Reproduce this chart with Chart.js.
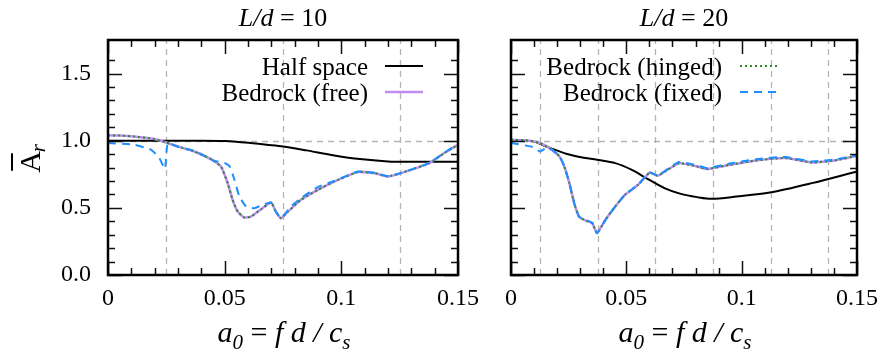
<!DOCTYPE html>
<html>
<head>
<meta charset="utf-8">
<script src="https://cdn.jsdelivr.net/npm/chart.js@4.4.1/dist/chart.umd.min.js"></script>
<style>
  html, body { margin: 0; padding: 0; background: #fff; }
  #wrap { position: relative; width: 887px; height: 356px; overflow: hidden; }
  canvas { position: absolute; left: 0; top: 0; }
</style>
</head>
<body>
<div id="wrap">
  <canvas id="left" width="887" height="356"></canvas>
  <canvas id="right" width="887" height="356"></canvas>
</div>
<script>
const SERIF = "'Liberation Serif', 'DejaVu Serif', serif";

// ---- L/d = 10 ----
const halfXL = [0, 0.02, 0.04, 0.05, 0.055, 0.061, 0.068, 0.075, 0.085, 0.097, 0.108, 0.12, 0.128, 0.15];
const halfYL = [1.0, 1.0, 1.0, 0.998, 0.993, 0.983, 0.97, 0.957, 0.928, 0.89, 0.863, 0.846, 0.843, 0.843];

const freeXL = [0, 0.005, 0.011, 0.0198, 0.0249, 0.0299, 0.037, 0.0441, 0.0484, 0.0513, 0.0534, 0.0556, 0.0584,
  0.0613, 0.0656, 0.0699, 0.072, 0.0741, 0.077, 0.0827, 0.0899, 0.097, 0.107, 0.1141, 0.1199, 0.1256, 0.1377, 0.1441, 0.15];
const freeYL = [1.04, 1.038, 1.032, 1.013, 0.987, 0.957, 0.92, 0.863, 0.808, 0.684, 0.56, 0.472, 0.428,
  0.435, 0.49, 0.54, 0.47, 0.423, 0.47, 0.56, 0.634, 0.696, 0.766, 0.759, 0.734, 0.759, 0.833, 0.908, 0.97];

const fixedXL = [0, 0.0112, 0.0184, 0.022, 0.0244, 0.0256, 0.0299, 0.037, 0.0456, 0.0499, 0.0521, 0.0542, 0.0563,
  0.0592, 0.0627, 0.067, 0.0699, 0.072, 0.0741, 0.0784, 0.0827, 0.0899, 0.097, 0.107, 0.1141, 0.1199, 0.1256, 0.1377, 0.1441, 0.15];
const fixedYL = [0.983, 0.97, 0.933, 0.871, 0.79, 0.98, 0.955, 0.925, 0.85, 0.835, 0.81, 0.709, 0.584,
  0.51, 0.498, 0.527, 0.54, 0.47, 0.423, 0.51, 0.572, 0.655, 0.70, 0.77, 0.762, 0.736, 0.76, 0.835, 0.91, 0.975];

// ---- L/d = 20 ----
const halfXR = [0, 0.005, 0.0096, 0.0153, 0.0239, 0.0309, 0.0373, 0.0452, 0.0522, 0.0594, 0.0665, 0.0736, 0.0807,
  0.0871, 0.0977, 0.1122, 0.1304, 0.15];
const halfYR = [1.005, 1.003, 0.995, 0.957, 0.903, 0.875, 0.858, 0.833, 0.784, 0.714, 0.647, 0.604, 0.58,
  0.567, 0.584, 0.614, 0.684, 0.771];

const freeXR = [0, 0.0082, 0.0125, 0.0167, 0.021, 0.0231, 0.0253, 0.0274, 0.0295, 0.0324, 0.0352, 0.0373, 0.0409,
  0.0452, 0.0494, 0.0551, 0.0601, 0.0636, 0.0679, 0.0729, 0.0807, 0.0849, 0.0949, 0.1062, 0.119, 0.1304, 0.1403, 0.15];
const freeYR = [1.007, 1.0, 0.983, 0.945, 0.883, 0.808, 0.684, 0.535, 0.435, 0.405, 0.386, 0.311, 0.41,
  0.51, 0.597, 0.672, 0.763, 0.739, 0.784, 0.833, 0.808, 0.789, 0.821, 0.853, 0.871, 0.838, 0.853, 0.888];

const fixedXR = [0, 0.0096, 0.0125, 0.0153, 0.0175, 0.021, 0.0231, 0.0253, 0.0274, 0.0295, 0.0324, 0.0352, 0.0373,
  0.0409, 0.0452, 0.0494, 0.0551, 0.0601, 0.0636, 0.0679, 0.0729, 0.0807, 0.0849, 0.0949, 0.1062, 0.119, 0.1304, 0.1403, 0.15];
const fixedYR = [0.983, 0.953, 0.92, 0.945, 0.935, 0.883, 0.808, 0.684, 0.535, 0.435, 0.41, 0.39, 0.311,
  0.41, 0.51, 0.597, 0.672, 0.763, 0.739, 0.79, 0.842, 0.817, 0.797, 0.83, 0.862, 0.879, 0.846, 0.86, 0.893];

// hinged and free bedrock curves coincide in the figure
const hingedXL = freeXL, hingedYL = freeYL;
const hingedXR = freeXR, hingedYR = freeYR;

const xMajor = [0, 0.05, 0.1, 0.15];
const xMajorLabels = ['0', '0.05', '0.1', '0.15'];
const yMajor = [0, 0.5, 1.0, 1.5];
const yMajorLabels = ['0.0', '0.5', '1.0', '1.5'];
const gridXL = [0.025, 0.075, 0.125];
const gridXR = [0.0125, 0.0375, 0.0625, 0.0875, 0.1125, 0.1375];
const gridY = [1.0];

const legendLabels = ['Half space', 'Bedrock (free)', 'Bedrock (hinged)', 'Bedrock (fixed)'];

function majorLabel(v, majors, labels) {
  const i = majors.findIndex(m => Math.abs(m - v) < 1e-6);
  return i < 0 ? '' : labels[i];
}
function isStep(v, step) {
  const r = v / step;
  return Math.abs(r - Math.round(r)) < 1e-6;
}
function fontOf(p) {
  return (p.italic ? 'italic ' : '') + p.size + 'px ' + SERIF;
}
// draw text made of runs (italic / subscript), anchored by align
function drawRuns(ctx, parts, x, y, align) {
  let w = 0;
  parts.forEach(p => { ctx.font = fontOf(p); w += ctx.measureText(p.t).width; });
  let cx = align === 'right' ? x - w : (align === 'left' ? x : x - w / 2);
  ctx.textAlign = 'left';
  parts.forEach(p => {
    ctx.font = fontOf(p);
    ctx.fillText(p.t, cx, y + (p.dy || 0));
    cx += ctx.measureText(p.t).width;
  });
}

const framePlugin = {
  id: 'frame',
  beforeDatasetsDraw(chart, args, o) {
    const { ctx, chartArea: a, scales: { x, y } } = chart;
    ctx.save();
    ctx.beginPath();
    ctx.rect(a.left, a.top, a.width, a.height);
    ctx.clip();
    ctx.strokeStyle = '#b4b4b4';
    ctx.lineWidth = 1.3;
    ctx.setLineDash([6, 5]);
    o.xGrid.forEach(v => {
      const px = Math.round(x.getPixelForValue(v)) + 0.5;
      ctx.beginPath(); ctx.moveTo(px, a.bottom); ctx.lineTo(px, a.top); ctx.stroke();
    });
    o.yGrid.forEach(v => {
      const py = Math.round(y.getPixelForValue(v)) + 0.5;
      ctx.beginPath(); ctx.moveTo(a.left, py); ctx.lineTo(a.right, py); ctx.stroke();
    });
    ctx.restore();
  },
  afterDatasetsDraw(chart, args, o) {
    const { ctx, chartArea: a, scales: { x, y } } = chart;
    ctx.save();
    // inward tick marks on all four sides
    ctx.strokeStyle = '#111';
    ctx.lineWidth = 1.5;
    x.ticks.forEach(t => {
      if (!isStep(t.value, 0.01)) return;
      const len = isStep(t.value, 0.05) ? 14 : 7;
      const px = Math.round(x.getPixelForValue(t.value)) + 0.5;
      ctx.beginPath();
      ctx.moveTo(px, a.bottom); ctx.lineTo(px, a.bottom - len);
      ctx.moveTo(px, a.top); ctx.lineTo(px, a.top + len);
      ctx.stroke();
    });
    y.ticks.forEach(t => {
      if (!isStep(t.value, 0.1)) return;
      const len = isStep(t.value, 0.5) ? 14 : 7;
      const py = Math.round(y.getPixelForValue(t.value)) + 0.5;
      ctx.beginPath();
      ctx.moveTo(a.left, py); ctx.lineTo(a.left + len, py);
      ctx.moveTo(a.right, py); ctx.lineTo(a.right - len, py);
      ctx.stroke();
    });
    // frame
    ctx.lineWidth = 2.5;
    ctx.strokeStyle = '#000';
    ctx.strokeRect(a.left, a.top, a.width, a.height);

    // legend: label right-aligned, sample line to the right
    ctx.fillStyle = '#000';
    ctx.textBaseline = 'middle';
    o.legend.forEach((item, i) => {
      const ds = chart.data.datasets[item.ds];
      const rowY = o.legendRows[i];
      drawRuns(ctx, [{ t: item.label, size: 25 }], o.legendRight, rowY + 1, 'right');
      ctx.strokeStyle = ds.borderColor;
      ctx.lineWidth = ds.borderWidth;
      ctx.setLineDash(ds.borderDash || []);
      ctx.beginPath();
      ctx.moveTo(o.sampleX[0], rowY - 1);
      ctx.lineTo(o.sampleX[1], rowY - 1);
      ctx.stroke();
    });
    ctx.setLineDash([]);
    ctx.strokeStyle = '#000';

    // panel title
    const cx = (a.left + a.right) / 2;
    ctx.textBaseline = 'alphabetic';
    drawRuns(ctx, [
      { t: 'L/d', size: 26, italic: true },
      { t: ' = ' + o.ratio, size: 26 }
    ], cx, 26, 'center');

    // x axis title  a0 = f d / cs
    drawRuns(ctx, [
      { t: 'a', size: 30, italic: true },
      { t: '0', size: 21, italic: true, dy: 7 },
      { t: ' = ', size: 30 },
      { t: 'f d / c', size: 30, italic: true },
      { t: 's', size: 21, italic: true, dy: 7 }
    ], cx + 1, 342, 'center');

    // y axis title (rotated)  A-bar with subscript r
    if (o.yTitle) {
      ctx.translate(40, 162);
      ctx.rotate(-Math.PI / 2);
      ctx.font = '30px ' + SERIF;
      const wA = ctx.measureText('A').width;
      ctx.textAlign = 'left';
      ctx.fillText('A', -wA / 2, 0);
      ctx.lineWidth = 2;
      ctx.beginPath();
      ctx.moveTo(-wA / 2 + 2, -28);
      ctx.lineTo(wA / 2 - 2, -28);
      ctx.stroke();
      ctx.font = 'italic 21px ' + SERIF;
      ctx.fillText('r', wA / 2 - 1, 5);
    }
    ctx.restore();
  }
};

function series(xs, ys, style) {
  return Object.assign({
    data: xs.map((v, i) => ({ x: v, y: ys[i] })),
    pointRadius: 0,
    fill: false
  }, style);
}

function makeDatasets(hx, hy, fx, fy, gx, gy, bx, by) {
  // first dataset is drawn on top
  return [
    series(bx, by, { label: legendLabels[3], borderColor: '#1e8fff', borderWidth: 2, borderDash: [8, 6], tension: 0.15 }),
    series(gx, gy, { label: legendLabels[2], borderColor: '#2a8a2a', borderWidth: 2, borderDash: [2, 3], tension: 0.15 }),
    series(fx, fy, { label: legendLabels[1], borderColor: '#c08cf2', borderWidth: 2.5, tension: 0.15 }),
    series(hx, hy, { label: legendLabels[0], borderColor: '#000000', borderWidth: 2, tension: 0.3 })
  ];
}

function makeChart(id, datasets, frame, yAxisWidth, padRight, showYLabels) {
  return new Chart(document.getElementById(id), {
    type: 'line',
    data: { datasets },
    options: {
      responsive: false,
      animation: false,
      devicePixelRatio: 1,
      layout: { padding: { left: 0, right: padRight, top: 40, bottom: 0 } },
      plugins: { legend: { display: false }, tooltip: { enabled: false }, frame },
      scales: {
        x: {
          type: 'linear', min: 0, max: 0.15,
          afterFit(s) { s.height = 81; },
          grid: { display: false, drawTicks: false },
          border: { display: false },
          ticks: {
            stepSize: 0.01, autoSkip: false, maxRotation: 0, padding: 9,
            color: '#000', font: { family: SERIF, size: 24 },
            callback: v => majorLabel(v, xMajor, xMajorLabels)
          }
        },
        y: {
          type: 'linear', min: 0, max: 1.75,
          afterFit(s) { s.width = yAxisWidth; },
          grid: { display: false, drawTicks: false },
          border: { display: false },
          ticks: {
            stepSize: 0.1, autoSkip: false, padding: 17,
            color: '#000', font: { family: SERIF, size: 24 },
            callback: v => showYLabels ? majorLabel(v, yMajor, yMajorLabels) : ''
          }
        }
      }
    },
    plugins: [framePlugin]
  });
}

function drawAll() {
  makeChart('left',
    makeDatasets(halfXL, halfYL, freeXL, freeYL, hingedXL, hingedYL, fixedXL, fixedYL),
    {
      xGrid: gridXL, yGrid: gridY, ratio: '10', yTitle: true,
      legend: [{ label: legendLabels[0], ds: 3 }, { label: legendLabels[1], ds: 2 }],
      legendRight: 368, legendRows: [67, 93], sampleX: [385, 423]
    },
    108, 887 - 458, true);

  makeChart('right',
    makeDatasets(halfXR, halfYR, freeXR, freeYR, hingedXR, hingedYR, fixedXR, fixedYR),
    {
      xGrid: gridXR, yGrid: gridY, ratio: '20', yTitle: false,
      legend: [{ label: legendLabels[2], ds: 1 }, { label: legendLabels[3], ds: 0 }],
      legendRight: 722, legendRows: [67, 93], sampleX: [740, 778]
    },
    511, 24, false);
}

// make sure the serif faces are ready before the canvases draw text
Promise.all([
  document.fonts.load('24px "Liberation Serif"'),
  document.fonts.load('italic 24px "Liberation Serif"')
]).catch(() => {}).then(drawAll);
</script>
</body>
</html>
